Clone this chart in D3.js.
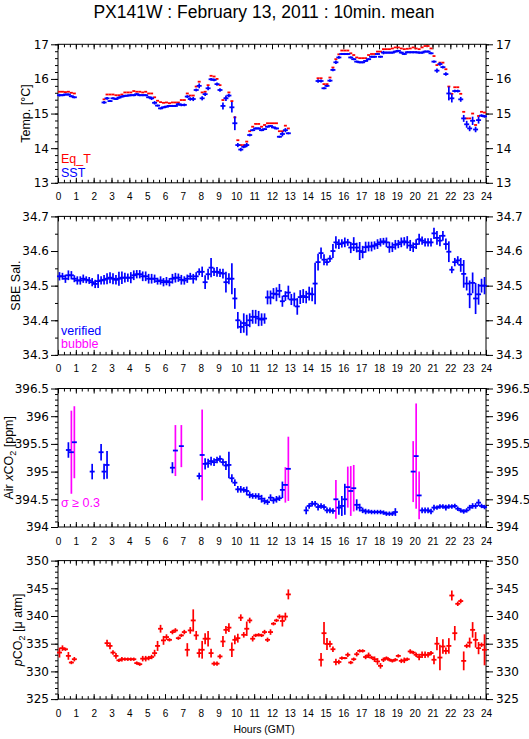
<!DOCTYPE html>
<html>
<head>
<meta charset="utf-8">
<script src="https://cdn.jsdelivr.net/npm/d3@7"></script>
<style>
  body { margin: 0; background: #fff; }
  svg { display: block; font-family: "Liberation Sans", Arial, sans-serif; }
</style>
</head>
<body>
<svg width="529" height="739"></svg>
<script>
const N = null;

// 10 min means, 6 per hour, one row per hour (GMT)
const eqT = [
  15.63,15.63,15.62,15.63,15.60,15.58,  N,N,N,N,N,N,
  N,N,N,15.41,15.55,15.55,  15.55,15.53,15.53,15.55,15.61,15.61,
  15.61,15.65,15.63,15.63,15.61,15.63,  15.58,15.58,15.47,15.37,15.33,15.31,
  15.32,15.30,15.32,15.32,15.32,15.39,  15.39,15.58,15.52,15.52,15.78,15.92,
  15.61,15.63,15.82,16.09,16.07,16.00,  15.82,15.39,15.45,15.61,15.36,14.89,
  14.23,14.09,14.09,14.19,14.49,14.62,  14.70,14.70,14.62,14.67,14.72,14.72,
  14.72,14.72,14.49,14.49,14.65,14.57,  N,N,N,N,N,N,
  N,N,N,16.02,16.02,15.85,  15.85,16.04,16.33,16.57,16.71,16.82,
  16.82,16.82,16.74,16.69,16.62,16.60,  16.60,16.60,16.69,16.72,16.72,16.79,
  16.79,16.86,16.86,16.86,16.88,16.91,  16.91,16.88,16.86,16.87,16.88,16.91,
  16.88,16.86,16.91,16.95,16.95,16.88,  16.66,16.40,16.47,16.47,16.28,15.78,
  15.57,15.76,15.76,15.57,15.05,14.86,  14.86,15.00,14.67,14.93,15.05,15.03
];
const sst = [
  15.53,15.53,15.55,15.55,15.50,15.47,  N,N,N,N,N,N,
  N,N,N,15.32,15.44,15.36,  15.44,15.42,15.46,15.49,15.51,15.52,
  15.53,15.53,15.56,15.53,15.53,15.53,  15.47,15.44,15.31,15.23,15.15,15.18,
  15.20,15.22,15.22,15.22,15.27,15.25,  15.25,15.49,15.42,15.42,15.68,15.80,
  15.44,15.56,15.73,15.99,15.97,15.85,  15.68,15.22,15.44,15.52,15.18,14.72,
  14.09,13.96,14.04,14.09,14.38,14.52,  14.57,14.57,14.52,14.55,14.62,14.64,
  14.60,14.57,14.33,14.41,14.52,14.43,  N,N,N,N,N,N,
  N,N,N,15.94,15.94,15.73,  15.80,15.95,16.26,16.48,16.62,16.72,
  16.72,16.72,16.62,16.57,16.50,16.48,  16.48,16.52,16.57,16.64,16.64,16.72,
  16.64,16.76,16.76,16.76,16.76,16.79,  16.81,16.76,16.72,16.77,16.77,16.77,
  16.77,16.76,16.76,16.79,16.79,16.74,  16.50,16.24,16.43,16.34,16.14,15.58,
  15.44,15.65,15.65,15.41,14.86,14.69,  14.57,14.79,14.54,14.81,14.94,14.92
];
const sstSd = [
  .04,.03,.03,.03,.03,.03,  N,N,N,N,N,N,
  N,N,N,.04,.04,.03,  .03,.03,.03,.03,.03,.03,
  .03,.03,.03,.03,.03,.03,  .03,.05,.05,.03,.03,.03,
  .03,.03,.03,.03,.04,.04,  .04,.04,.05,.06,.04,.07,
  .06,.05,.06,.04,.04,.05,  .05,.10,.08,.05,.15,.20,
  .06,.05,.04,.06,.04,.03,  .03,.03,.03,.03,.03,.03,
  .03,.03,.03,.07,.06,.03,  N,N,N,N,N,N,
  N,N,N,.05,.04,.03,  .03,.04,.04,.05,.04,.03,
  .03,.03,.03,.03,.03,.03,  .03,.03,.03,.03,.03,.03,
  .03,.05,.03,.03,.03,.03,  .03,.03,.03,.03,.03,.03,
  .03,.03,.03,.03,.03,.03,  .03,.06,.05,.04,.05,.20,
  .12,.04,.04,.07,.10,.10,  .08,.12,.08,.10,.04,.04
];

const sal = [
  34.527,34.527,34.520,34.530,34.530,34.520,  34.515,34.515,34.520,34.517,34.515,34.510,
  34.505,34.513,34.515,34.517,34.520,34.523,  34.520,34.517,34.520,34.523,34.523,34.523,
  34.523,34.530,34.533,34.533,34.527,34.527,  34.520,34.520,34.520,34.513,34.515,34.510,
  34.513,34.510,34.520,34.523,34.523,34.517,  34.515,34.520,34.527,34.520,34.527,34.540,
  34.540,34.510,34.533,34.552,34.540,34.540,  34.537,34.535,34.510,34.520,34.520,34.463,
  34.400,34.381,34.392,34.386,34.400,34.410,  34.410,34.405,34.402,34.405,34.466,34.466,
  34.477,34.475,34.485,34.455,34.470,34.480,  34.460,34.460,34.440,34.467,34.470,34.467,
  34.477,34.475,34.506,34.568,34.594,34.575,  34.568,34.578,34.600,34.625,34.620,34.622,
  34.625,34.625,34.610,34.620,34.610,34.600,  34.597,34.611,34.613,34.613,34.616,34.620,
  34.625,34.628,34.625,34.611,34.611,34.618,  34.620,34.625,34.628,34.625,34.616,34.611,
  34.620,34.634,34.630,34.625,34.625,34.625,  34.651,34.638,34.630,34.644,34.620,34.598,
  34.546,34.568,34.573,34.560,34.534,34.506,  34.475,34.508,34.463,34.475,34.500,34.500
];
const salSd = [
  .012,.010,.012,.014,.012,.010,  .012,.012,.012,.010,.010,.012,
  .012,.020,.012,.014,.016,.016,  .016,.014,.020,.018,.014,.012,
  .016,.014,.012,.012,.014,.014,  .014,.014,.012,.010,.012,.012,
  .012,.012,.014,.014,.012,.014,  .012,.012,.010,.014,.012,.010,
  .015,.020,.016,.028,.012,.014,  .012,.014,.030,.016,.045,.030,
  .024,.018,.028,.030,.020,.020,  .020,.022,.018,.015,.020,.020,
  .016,.020,.020,.016,.014,.020,  .016,.020,.024,.020,.020,.018,
  .020,.020,.060,.024,.016,.016,  .010,.010,.020,.018,.014,.012,
  .014,.010,.016,.020,.014,.026,  .018,.016,.014,.014,.012,.014,
  .012,.010,.014,.016,.014,.014,  .012,.014,.012,.018,.016,.014,
  .014,.016,.012,.012,.012,.012,  .016,.020,.016,.014,.016,.030,
  .010,.012,.012,.020,.040,.020,  .040,.030,.045,.030,.020,.025
];

const xco2 = [
  N,N,N,395.39,395.35,395.53,  N,N,N,N,N,395.00,
  N,N,395.35,395.00,395.12,N,  N,N,N,N,N,N,
  N,N,N,N,N,N,  N,N,N,N,N,N,
  N,N,395.07,395.38,N,395.46,  N,N,N,N,N,394.92,
  395.30,395.14,395.15,395.19,395.17,395.21,  395.23,395.17,395.11,395.12,394.88,394.80,
  394.68,394.68,394.67,394.65,394.58,394.56,  394.56,394.55,394.51,394.47,394.45,394.53,
  394.48,394.50,394.52,394.67,394.76,395.05,  N,N,N,N,N,394.30,
  394.38,394.42,394.42,394.36,394.38,394.36,  394.30,394.30,394.29,394.50,394.35,394.38,
  394.50,394.72,394.65,394.70,394.40,394.35,  394.30,394.28,394.28,394.27,394.27,394.27,
  394.27,394.26,394.24,394.24,394.24,394.27,  N,N,N,N,N,395.00,
  395.28,394.57,394.30,394.30,394.30,394.28,  394.35,394.35,394.37,394.37,394.35,394.37,
  394.37,394.38,394.33,394.30,394.28,394.30,  394.35,394.38,394.38,394.44,394.38,394.36
];
const xco2Sd = [
  N,N,N,.14,.75,.65,  N,N,N,N,N,.14,
  N,N,.15,.14,.25,N,  N,N,N,N,N,N,
  N,N,N,N,N,N,  N,N,N,N,N,N,
  N,N,.10,.46,N,.38,  N,N,N,N,N,.06,
  .82,.10,.08,.08,.07,.06,  .06,.06,.08,.24,.07,.06,
  .06,.06,.05,.08,.06,.05,  .05,.06,.07,.06,.05,.06,
  .06,.06,.05,.15,.32,.58,  N,N,N,N,N,.07,
  .05,.05,.05,.06,.05,.05,  .05,.05,.05,.35,.13,.18,
  .28,.37,.45,.42,.10,.07,  .05,.05,.04,.04,.04,.04,
  .04,.04,.04,.04,.04,.07,  N,N,N,N,N,.55,
  .95,.43,.05,.05,.05,.05,  .05,.04,.04,.04,.05,.04,
  .04,.04,.04,.04,.04,.04,  .05,.05,.05,.06,.04,.04
];

const pco2 = [
  333.4,334.2,334.0,332.8,331.6,332.2,  N,N,N,N,N,N,
  N,N,N,N,335.1,334.6,  333.4,332.8,332.0,332.2,332.2,332.2,
  332.2,332.2,331.5,331.3,332.3,332.3,  332.4,332.6,333.3,334.6,337.7,335.6,
  336.2,335.7,337.1,337.4,336.0,336.5,  337.1,333.9,337.4,339.2,336.5,333.3,
  333.9,335.9,335.9,333.3,331.4,331.4,  332.7,335.4,337.5,337.9,333.9,335.7,
  336.0,339.7,336.6,337.7,339.2,335.9,  336.5,336.6,336.5,337.1,335.7,337.1,
  338.6,339.2,339.9,339.1,339.9,343.9,  N,N,N,N,N,N,
  N,N,N,N,332.1,336.9,  334.95,334.95,334.0,331.7,331.7,332.4,
  332.4,333.0,331.6,332.2,333.1,333.7,  333.7,332.6,332.9,332.5,332.2,331.8,
  331.0,332.1,332.4,332.1,331.9,332.1,  332.8,331.9,332.0,332.2,333.6,333.4,
  333.0,332.6,333.0,333.0,333.0,333.3,  332.1,335.0,332.5,334.5,333.7,334.6,
  343.7,336.9,342.2,342.7,331.9,334.6,  335.2,337.5,335.7,334.2,334.8,333.9
];
const pco2Sd = [
  .9,.5,.3,.7,.3,.4,  N,N,N,N,N,N,
  N,N,N,N,.6,.6,  .4,.5,.3,.4,.3,.3,
  .3,.3,.3,.3,.5,.5,  .4,.4,.6,.9,.7,.8,
  .5,.3,.4,.4,.3,.3,  .4,1.2,.6,2.0,.8,.8,
  1.6,1.0,1.4,.8,.4,.4,  .4,1.0,.7,.8,1.3,.8,
  .8,.6,.5,1.3,.5,.5,  .3,.3,.3,.4,.4,.5,
  .3,.3,.4,1.0,.7,.9,  N,N,N,N,N,N,
  N,N,N,N,1.2,2.0,  1.1,.6,.5,.6,.4,.3,
  .2,.4,.3,.3,.4,.3,  .3,.4,.5,.3,.5,.6,
  .5,.4,.3,.3,.3,.3,  .3,.4,.5,.3,.4,.3,
  .4,.6,.6,.6,.5,.4,  .8,1.2,2.3,1.3,.6,1.4,
  .9,1.3,.4,.4,1.7,.4,  .9,1.4,1.4,1.1,.4,2.8
];

const hourTicks = d3.range(0, 25);
const hours = d3.range(144).map(i => (i + 0.5) / 6);

const blue = '#0000ff', red = '#ff0000', magenta = '#ff00ff';
const tickFont = '"DejaVu Sans", sans-serif';
const textFont = '"Liberation Sans", Arial, sans-serif';

const svg = d3.select('svg');
const x = d3.scaleLinear().domain([0, 24]).range([58, 486]);
const panelTop = 44.3, panelStep = 172.1, panelHeight = 138.5;

svg.append('text')
    .attr('x', 264).attr('y', 18)
    .attr('text-anchor', 'middle')
    .attr('font-size', 17.5)
    .text('PX141W : February 13, 2011 : 10min. mean');

function tidy(sel, font, size) {
  sel.select('.domain').remove();
  sel.attr('font-family', font).attr('font-size', size);
  sel.selectAll('line').attr('stroke', '#000');
  sel.selectAll('text').attr('fill', '#000');
}

function panel(k, domain, major, minor, fmt) {
  const top = panelTop + k * panelStep;
  const bottom = top + panelHeight;
  const y = d3.scaleLinear().domain(domain).range([bottom, top]);
  const g = svg.append('g');

  g.append('g').attr('transform', 'translate(58,0)')
      .call(d3.axisLeft(y).tickValues(minor).tickSize(3).tickFormat(''))
      .call(s => tidy(s, tickFont, 12));
  g.append('g').attr('transform', 'translate(58,0)')
      .call(d3.axisLeft(y).tickValues(major).tickSize(7).tickPadding(2).tickFormat(fmt))
      .call(s => tidy(s, tickFont, 12));
  g.append('g').attr('transform', 'translate(486,0)')
      .call(d3.axisRight(y).tickValues(minor).tickSize(3).tickFormat(''))
      .call(s => tidy(s, tickFont, 12));
  g.append('g').attr('transform', 'translate(486,0)')
      .call(d3.axisRight(y).tickValues(major).tickSize(7).tickPadding(3).tickFormat(fmt))
      .call(s => tidy(s, tickFont, 12));

  const thirds = d3.range(0, 73).map(i => i / 3);
  g.append('g').attr('transform', `translate(0,${bottom})`)
      .call(d3.axisTop(x).tickValues(thirds).tickSize(3).tickFormat(''))
      .call(s => tidy(s, textFont, 10));
  g.append('g').attr('transform', `translate(0,${bottom})`)
      .call(d3.axisTop(x).tickValues(hourTicks).tickSize(5).tickFormat(''))
      .call(s => tidy(s, textFont, 10));
  g.append('g').attr('transform', `translate(0,${top})`)
      .call(d3.axisBottom(x).tickValues(thirds).tickSize(3).tickFormat(''))
      .call(s => tidy(s, textFont, 10));
  g.append('g').attr('transform', `translate(0,${top})`)
      .call(d3.axisBottom(x).tickValues(hourTicks).tickSize(5).tickFormat(''))
      .call(s => tidy(s, textFont, 10));
  g.append('g').attr('transform', `translate(0,${bottom})`)
      .call(d3.axisBottom(x).tickValues(hourTicks).tickSize(0).tickPadding(10.5).tickFormat(d3.format('d')))
      .call(s => tidy(s, textFont, 10));

  g.append('rect')
      .attr('x', 58).attr('y', top)
      .attr('width', 428).attr('height', panelHeight)
      .attr('fill', 'none').attr('stroke', '#000');

  return { g, y, top, bottom };
}

// vertical bar = standard deviation, horizontal bar = 10 min mean
function crosses(p, vals, sds, vColor, hColor, hw) {
  const pts = hours.map((t, i) => ({ t, v: vals[i], s: sds ? sds[i] : null }))
      .filter(d => d.v != null);
  if (sds) {
    p.g.append('g').selectAll('line').data(pts).join('line')
        .attr('x1', d => x(d.t)).attr('x2', d => x(d.t))
        .attr('y1', d => p.y(d.v - d.s)).attr('y2', d => p.y(d.v + d.s))
        .attr('stroke', vColor).attr('stroke-width', 1.7);
  }
  p.g.append('g').selectAll('line').data(pts).join('line')
      .attr('x1', d => x(d.t - hw)).attr('x2', d => x(d.t + hw))
      .attr('y1', d => p.y(d.v)).attr('y2', d => p.y(d.v))
      .attr('stroke', hColor).attr('stroke-width', 1.8);
}

function yLabel(p, xPos, parts) {
  const t = svg.append('text')
      .attr('transform', `translate(${xPos},${(p.top + p.bottom) / 2}) rotate(-90)`)
      .attr('text-anchor', 'middle')
      .attr('font-size', 12.5);
  parts.forEach(([s, style]) => {
    const ts = t.append('tspan').text(s);
    if (style === 'i') ts.attr('font-style', 'italic');
    if (style === 'sub') ts.attr('font-size', 9).attr('dy', 3);
    if (style === 'after') ts.attr('dy', -3);
  });
}

function legend(p, xPos, yPos, txt, color) {
  svg.append('text').attr('x', xPos).attr('y', yPos)
      .attr('font-size', 12.5).attr('fill', color).text(txt);
}

// Panel 1: temperature
const p1 = panel(0, [13, 17], d3.range(13, 18), d3.range(0, 21).map(i => 13 + i * 0.2), d3.format('d'));
crosses(p1, eqT, null, red, red, 1 / 12);
crosses(p1, sst, sstSd, blue, blue, 0.14);
yLabel(p1, 29.5, [['Temp. [°C]']]);
legend(p1, 61, 163, 'Eq_T', red);
legend(p1, 61, 177, 'SST', blue);

// Panel 2: salinity
const p2 = panel(1, [34.3, 34.7], [34.3, 34.4, 34.5, 34.6, 34.7], d3.range(0, 9).map(i => 34.3 + i * 0.05), d3.format('.1f'));
crosses(p2, sal, salSd, blue, blue, 0.14);
yLabel(p2, 20, [['SBE Sal.']]);
legend(p2, 61, 335, 'verified', blue);
legend(p2, 61, 348, 'bubble', magenta);

// Panel 3: atmospheric xCO2
const p3 = panel(2, [394, 396.5], [394, 394.5, 395, 395.5, 396, 396.5], d3.range(0, 26).map(i => 394 + i * 0.1), d => String(d));
crosses(p3, xco2, xco2Sd, d => d.s >= 0.3 ? magenta : blue, blue, 0.14);
yLabel(p3, 12.5, [['Air '], ['x', 'i'], ['CO'], ['2', 'sub'], [' [ppm]', 'after']]);
legend(p3, 61, 507, 'σ ≥ 0.3', magenta);

// Panel 4: pCO2
const p4 = panel(3, [325, 350], d3.range(325, 351, 5), d3.range(325, 351), d3.format('d'));
crosses(p4, pco2, pco2Sd, red, red, 0.14);
yLabel(p4, 21.5, [['p', 'i'], ['CO'], ['2', 'sub'], [' [μ atm]', 'after']]);

svg.append('text')
    .attr('x', 264).attr('y', 733)
    .attr('text-anchor', 'middle')
    .attr('font-size', 10.5)
    .text('Hours (GMT)');
</script>
</body>
</html>
